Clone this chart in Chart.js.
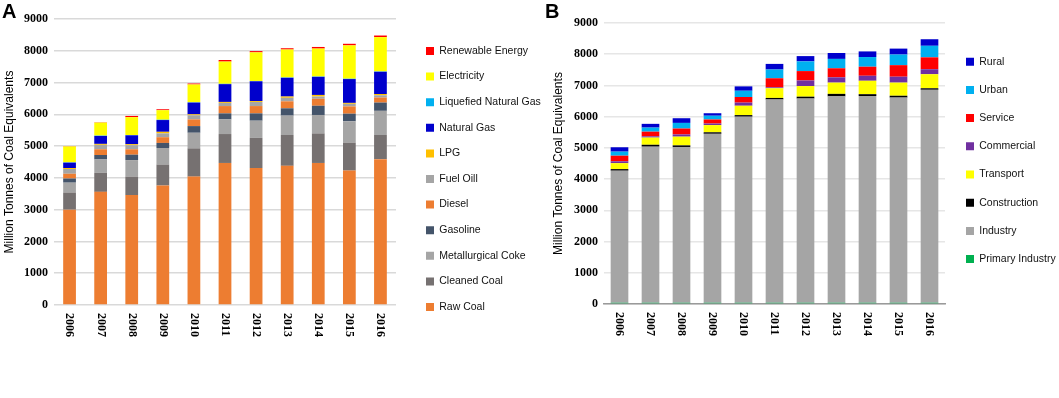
<!DOCTYPE html>
<html>
<head>
<meta charset="utf-8">
<script src="https://cdn.jsdelivr.net/npm/chart.js@4.4.1/dist/chart.umd.min.js"></script>
<style>
  body { margin: 0; background: #fff; overflow: hidden; }
  #wrap { position: relative; width: 1059px; height: 398px; }
  canvas { position: absolute; top: 0; }
  #chartA { left: 0; }
  #chartB { left: 540px; }
</style>
</head>
<body>
<div id="wrap">
  <canvas id="chartA" width="560" height="398"></canvas>
  <canvas id="chartB" width="519" height="398"></canvas>
</div>
<script>
// Years on both panels
const years = ['2006', '2007', '2008', '2009', '2010', '2011', '2012', '2013', '2014', '2015', '2016'];
const yTicks = [0, 1000, 2000, 3000, 4000, 5000, 6000, 7000, 8000, 9000];

// Panel A - by fuel (Million Tonnes of Coal Equivalents), bottom to top
const rawCoal      = [3000, 3560, 3460, 3760, 4040, 4470, 4310, 4380, 4470, 4230, 4590];
const cleanedCoal  = [540, 600, 580, 660, 890, 910, 950, 970, 930, 880, 760];
const metCoke      = [310, 420, 520, 520, 490, 460, 540, 610, 580, 670, 760];
const gasoline     = [130, 140, 170, 160, 210, 190, 230, 230, 290, 240, 260];
const diesel       = [150, 180, 170, 180, 210, 230, 230, 220, 220, 230, 160];
const fuelOil      = [150, 140, 130, 120, 130, 100, 130, 110, 70, 80, 70];
const lpg          = [30, 30, 30, 50, 30, 30, 30, 40, 50, 30, 40];
const naturalGas   = [170, 250, 280, 370, 370, 560, 620, 590, 570, 750, 700];
const lng          = [10, 10, 10, 10, 10, 10, 10, 10, 10, 10, 10];
const electricity  = [500, 410, 560, 300, 560, 700, 900, 880, 880, 1050, 1080];
const renewable    = [10, 10, 40, 30, 30, 50, 40, 40, 50, 50, 50];

// Panel B - by sector, bottom to top
const primaryInd   = [40, 40, 40, 40, 40, 40, 40, 40, 40, 40, 40];
const industry     = [4230, 5000, 4990, 5410, 5960, 6510, 6540, 6610, 6620, 6570, 6820];
const construction = [50, 60, 50, 50, 50, 50, 60, 80, 60, 60, 50];
const transport    = [190, 230, 280, 230, 300, 310, 340, 360, 430, 420, 450];
const commercial   = [60, 40, 70, 50, 100, 30, 180, 170, 160, 190, 160];
const service      = [180, 150, 190, 130, 180, 290, 300, 290, 290, 370, 380];
const urban        = [130, 130, 180, 120, 200, 280, 310, 300, 310, 340, 370];
const rural        = [140, 120, 150, 80, 140, 180, 170, 190, 180, 190, 210];

const seriesA = [
    ['Raw Coal', rawCoal, '#ED7D31'],
    ['Cleaned Coal', cleanedCoal, '#767171'],
    ['Metallurgical Coke', metCoke, '#A5A5A5'],
    ['Gasoline', gasoline, '#44546A'],
    ['Diesel', diesel, '#ED7D31'],
    ['Fuel Oill', fuelOil, '#A5A5A5'],
    ['LPG', lpg, '#FFC000'],
    ['Natural Gas', naturalGas, '#0000CC'],
    ['Liquefied Natural Gas', lng, '#00B0F0'],
    ['Electricity', electricity, '#FFFF00'],
    ['Renewable Energy', renewable, '#FF0000']
];
const seriesB = [
    ['Primary Industry', primaryInd, '#00B050'],
    ['Industry', industry, '#A5A5A5'],
    ['Construction', construction, '#000000'],
    ['Transport', transport, '#FFFF00'],
    ['Commercial', commercial, '#7030A0'],
    ['Service', service, '#FF0000'],
    ['Urban', urban, '#00B0F0'],
    ['Rural', rural, '#0000CC']
];

// move the legend block to where it sits in the figure (and give the text room)
const legendShift = {
    id: 'legendShift',
    afterLayout(chart, args, opts) {
        const lg = chart.legend;
        const p = lg.options.labels.padding;
        const dx = opts.x - (lg.left + p);
        const dy = opts.y - (lg.top + p);
        lg.left += dx; lg.right += dx + 40;
        lg.width += 40;
        lg.top += dy; lg.bottom += dy;
    }
};

// year labels turned clockwise, plus the panel letter
const extras = {
    id: 'extras',
    afterDraw(chart, args, opts) {
        const ctx = chart.ctx;
        const xs = chart.scales.x;
        ctx.save();
        ctx.fillStyle = '#000';
        ctx.font = 'bold 12px "Liberation Serif"';
        ctx.textAlign = 'left';
        ctx.textBaseline = 'middle';
        years.forEach((yr, i) => {
            ctx.save();
            ctx.translate(xs.getPixelForValue(i), chart.chartArea.bottom + 8);
            ctx.rotate(Math.PI / 2);
            ctx.fillText(yr, 0, 0);
            ctx.restore();
        });
        ctx.font = 'bold 20px "Liberation Sans"';
        ctx.textBaseline = 'alphabetic';
        ctx.fillText(opts.letter, opts.lx, 18);
        ctx.restore();
    }
};

function makeChart(id, series, cfg) {
    return new Chart(document.getElementById(id), {
        type: 'bar',
        data: {
            labels: years,
            datasets: series.map(s => ({
                label: s[0],
                data: s[1],
                backgroundColor: s[2],
                borderWidth: 0,
                barPercentage: cfg.barPct,
                categoryPercentage: 1
            }))
        },
        options: {
            responsive: false,
            animation: false,
            layout: { padding: { top: cfg.top, right: cfg.right, left: 0, bottom: 0 } },
            plugins: {
                tooltip: { enabled: false },
                legend: {
                    position: 'right',
                    align: 'start',
                    reverse: true,
                    maxWidth: cfg.legendW,
                    labels: {
                        boxWidth: 8,
                        boxHeight: 8,
                        padding: cfg.legendPad,
                        color: '#111',
                        font: { family: '"Liberation Sans"', size: 10.5 }
                    }
                },
                legendShift: { x: cfg.legendX, y: cfg.legendY },
                extras: { letter: cfg.letter, lx: cfg.letterX }
            },
            scales: {
                x: {
                    stacked: true,
                    grid: { display: false },
                    border: cfg.axisLine ? { display: true, color: '#9a9a9a', width: 1.5 } : { display: false },
                    ticks: { display: false },
                    afterFit: s => { s.height = cfg.bottomH; }
                },
                y: {
                    stacked: true,
                    min: 0,
                    max: 9000,
                    afterBuildTicks: s => { s.ticks = yTicks.map(v => ({ value: v })); },
                    grid: { color: cfg.gridColor, lineWidth: 1.5, drawTicks: false },
                    border: { display: false },
                    ticks: {
                        padding: 6,
                        color: '#000',
                        font: { family: '"Liberation Serif"', size: 12, weight: 'bold' },
                        callback: v => String(v)
                    },
                    title: {
                        display: true,
                        text: 'Million Tonnes of Coal Equivalents',
                        color: '#000',
                        padding: { top: cfg.titlePad, bottom: 0 },
                        font: { family: '"Liberation Sans"', size: 12 }
                    },
                    afterFit: s => { s.width = cfg.leftW; }
                }
            }
        },
        plugins: [legendShift, extras]
    });
}

makeChart('chartA', seriesA, {
    barPct: 0.41, top: 19, right: 44, legendW: 120, legendPad: 15.1,
    legendX: 426, legendY: 45.75, letter: 'A', letterX: 2,
    bottomH: 93, leftW: 54, titlePad: 2, gridColor: '#d9d9d9', axisLine: false
});
makeChart('chartB', seriesB, {
    barPct: 0.57, top: 23, right: 14, legendW: 100, legendPad: 17.7,
    legendX: 426, legendY: 56.45, letter: 'B', letterX: 5,
    bottomH: 94, leftW: 64, titlePad: 11, gridColor: '#e6e6e6', axisLine: true
});
</script>
</body>
</html>
